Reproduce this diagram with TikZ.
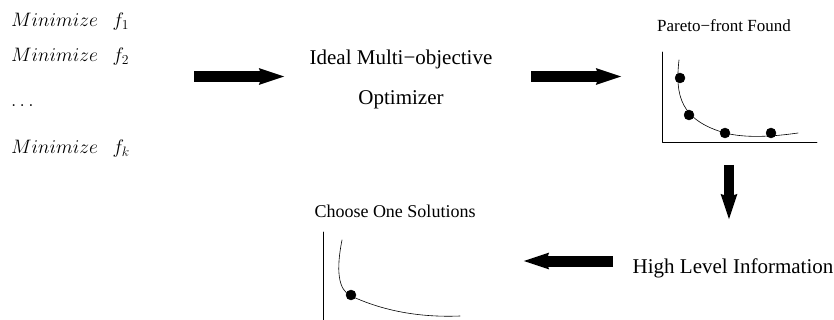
\documentclass[tikz,border=0pt]{standalone}
\usepackage{fix-cm}
\usepackage[no-math]{fontspec}
\setmainfont{Liberation Serif}
\usepackage{amsmath,amssymb}
\usepackage{tikz}
\usetikzlibrary{arrows.meta,calc}

\tikzset{
  fatarrow/.style={line width=11pt,-{Stealth[length=25pt,width=15pt,inset=2pt]}},
  bigtext/.style={inner sep=0pt,anchor=base,font=\fontsize{21}{25}\selectfont},
  smalltext/.style={inner sep=0pt,anchor=base,font=\fontsize{17}{21}\selectfont},
  objtext/.style={inner sep=0pt,anchor=base west,font=\fontsize{19.5}{23}\selectfont},
  sol/.style={fill=black}
}

\begin{document}
\begin{tikzpicture}[line cap=round,line join=round,x=1pt,y=-1pt]
                \useasboundingbox (0,0) rectangle (834,320);
                % objectives
                \node[objtext] (obj1) at (11,27) {$Minimize\hspace{0.75em}f_1$};
                \node[objtext] (obj2) at (11,62) {$Minimize\hspace{0.75em}f_2$};
                \node[objtext] (objdots) at (11,107) {$\dots$};
                \node[objtext] (objk) at (11,154) {$Minimize\hspace{0.75em}f_k$};
                % optimizer
                \node[bigtext] (ideal) at (401,65) {Ideal Multi−objective};
                \node[bigtext] (optim) at (401,105) {Optimizer};
                % pareto front
                \node[smalltext] (paretotitle) at (724,32) {Pareto−front Found};
                \coordinate (pfo) at (662,142);
                \draw [line width=0.6pt] (662,52)-- (pfo)-- (817,142);
                \draw [line width=0.6pt] (679,60) .. controls (675,95) and (680,120) .. (725,133)
                      .. controls (745,138) and (770,137) .. (798,133);
                \draw [sol] (680,78) circle (5);
                \draw [sol] (689,115) circle (5);
                \draw [sol] (725,133) circle (5);
                \draw [sol] (771,133) circle (5);
                % information
                \node[bigtext] (highinfo) at (733,273) {High Level Information};
                % chosen solution
                \node[smalltext,font=\fontsize{18}{22}\selectfont] (choosetitle) at (395,218) {Choose One Solutions};
                \draw [line width=0.6pt] (323,232)-- (323,321);
                \draw [line width=0.6pt] (342,240) .. controls (336,270) and (338,290) .. (351,296)
                      .. controls (375,307) and (410,318) .. (460,316);
                \draw [sol] (351,295) circle (5);
                % arrows
                \coordinate (a1s) at (194,76.5);
                \coordinate (a1e) at (285,76.5);
                \coordinate (a2s) at (531,76.5);
                \coordinate (a2e) at (622,76.5);
                \coordinate (a3s) at (729,165);
                \coordinate (a3e) at (729,220);
                \coordinate (a4s) at (613,261);
                \coordinate (a4e) at (523,261);
                \draw [fatarrow,line cap=butt] (a1s)-- (a1e);
                \draw [fatarrow,line cap=butt] (a2s)-- (a2e);
                \draw [fatarrow,line cap=butt,line width=10pt] (a3s)-- (a3e);
                \draw [fatarrow,line cap=butt] (a4s)-- (a4e);
\end{tikzpicture}
\end{document}
